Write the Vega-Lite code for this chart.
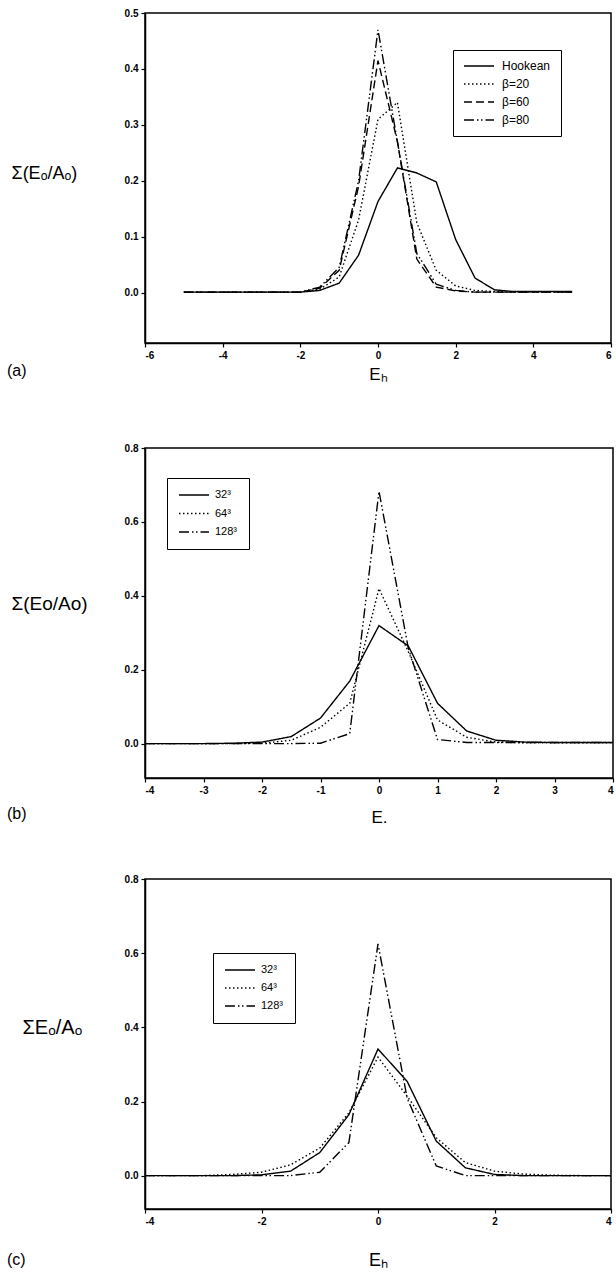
{
  "$schema": "https://vega.github.io/schema/vega-lite/v6.json",
  "padding": {"left": 6, "top": 7, "right": 0, "bottom": 0},
  "background": "white",
  "config": {
    "font": "Liberation Sans",
    "view": {"stroke": "black", "strokeWidth": 1.5},
    "axis": {"domainColor": "black", "domainWidth": 1.5, "tickColor": "black", "tickSize": 4, "tickWidth": 1.2, "labelFont": "Liberation Sans", "labelFontWeight": "bold", "labelFontSize": 10, "labelColor": "black", "grid": false, "titleFont": "Liberation Sans", "titleFontWeight": "normal", "titleColor": "black", "labelPadding": 3},
    "legend": {"strokeColor": "black", "fillColor": "white", "padding": 11, "symbolType": "stroke", "symbolSize": 900, "symbolStrokeWidth": 1.3, "symbolStrokeColor": "black", "labelFont": "Liberation Sans", "labelFontSize": 11, "labelColor": "black", "rowPadding": 6, "clipHeight": 12, "labelOffset": 7},
    "line": {"color": "black", "strokeWidth": 1.4}
  },
  "datasets": {
    "a": [
      {"s": "Hookean", "x": -5, "y": 0.001}, {"s": "Hookean", "x": -4.5, "y": 0.001}, {"s": "Hookean", "x": -4, "y": 0.001}, {"s": "Hookean", "x": -3.5, "y": 0.001}, {"s": "Hookean", "x": -3, "y": 0.001}, {"s": "Hookean", "x": -2.5, "y": 0.001}, {"s": "Hookean", "x": -2, "y": 0.001}, {"s": "Hookean", "x": -1.5, "y": 0.004}, {"s": "Hookean", "x": -1, "y": 0.017}, {"s": "Hookean", "x": -0.5, "y": 0.067}, {"s": "Hookean", "x": 0, "y": 0.163}, {"s": "Hookean", "x": 0.5, "y": 0.223}, {"s": "Hookean", "x": 1, "y": 0.214}, {"s": "Hookean", "x": 1.5, "y": 0.198}, {"s": "Hookean", "x": 2, "y": 0.095}, {"s": "Hookean", "x": 2.5, "y": 0.026}, {"s": "Hookean", "x": 3, "y": 0.005}, {"s": "Hookean", "x": 3.5, "y": 0.002}, {"s": "Hookean", "x": 4, "y": 0.002}, {"s": "Hookean", "x": 4.5, "y": 0.002}, {"s": "Hookean", "x": 5, "y": 0.002},
      {"s": "β=20", "x": -5, "y": 0.001}, {"s": "β=20", "x": -4.5, "y": 0.001}, {"s": "β=20", "x": -4, "y": 0.001}, {"s": "β=20", "x": -3.5, "y": 0.001}, {"s": "β=20", "x": -3, "y": 0.001}, {"s": "β=20", "x": -2.5, "y": 0.001}, {"s": "β=20", "x": -2, "y": 0.001}, {"s": "β=20", "x": -1.5, "y": 0.006}, {"s": "β=20", "x": -1, "y": 0.028}, {"s": "β=20", "x": -0.5, "y": 0.13}, {"s": "β=20", "x": 0, "y": 0.31}, {"s": "β=20", "x": 0.5, "y": 0.34}, {"s": "β=20", "x": 1, "y": 0.125}, {"s": "β=20", "x": 1.5, "y": 0.04}, {"s": "β=20", "x": 2, "y": 0.012}, {"s": "β=20", "x": 2.5, "y": 0.004}, {"s": "β=20", "x": 3, "y": 0.002}, {"s": "β=20", "x": 3.5, "y": 0.001}, {"s": "β=20", "x": 4, "y": 0.001}, {"s": "β=20", "x": 4.5, "y": 0.001}, {"s": "β=20", "x": 5, "y": 0.001},
      {"s": "β=60", "x": -5, "y": 0.001}, {"s": "β=60", "x": -4.5, "y": 0.001}, {"s": "β=60", "x": -4, "y": 0.001}, {"s": "β=60", "x": -3.5, "y": 0.001}, {"s": "β=60", "x": -3, "y": 0.001}, {"s": "β=60", "x": -2.5, "y": 0.001}, {"s": "β=60", "x": -2, "y": 0.001}, {"s": "β=60", "x": -1.5, "y": 0.008}, {"s": "β=60", "x": -1, "y": 0.04}, {"s": "β=60", "x": -0.5, "y": 0.19}, {"s": "β=60", "x": 0, "y": 0.415}, {"s": "β=60", "x": 0.5, "y": 0.27}, {"s": "β=60", "x": 1, "y": 0.06}, {"s": "β=60", "x": 1.5, "y": 0.01}, {"s": "β=60", "x": 2, "y": 0.003}, {"s": "β=60", "x": 2.5, "y": 0.001}, {"s": "β=60", "x": 3, "y": 0.001}, {"s": "β=60", "x": 3.5, "y": 0.001}, {"s": "β=60", "x": 4, "y": 0.001}, {"s": "β=60", "x": 4.5, "y": 0.001}, {"s": "β=60", "x": 5, "y": 0.001},
      {"s": "β=80", "x": -5, "y": 0.001}, {"s": "β=80", "x": -4.5, "y": 0.001}, {"s": "β=80", "x": -4, "y": 0.001}, {"s": "β=80", "x": -3.5, "y": 0.001}, {"s": "β=80", "x": -3, "y": 0.001}, {"s": "β=80", "x": -2.5, "y": 0.001}, {"s": "β=80", "x": -2, "y": 0.001}, {"s": "β=80", "x": -1.5, "y": 0.01}, {"s": "β=80", "x": -1, "y": 0.045}, {"s": "β=80", "x": -0.5, "y": 0.2}, {"s": "β=80", "x": 0, "y": 0.47}, {"s": "β=80", "x": 0.5, "y": 0.27}, {"s": "β=80", "x": 1, "y": 0.07}, {"s": "β=80", "x": 1.5, "y": 0.015}, {"s": "β=80", "x": 2, "y": 0.004}, {"s": "β=80", "x": 2.5, "y": 0.001}, {"s": "β=80", "x": 3, "y": 0.001}, {"s": "β=80", "x": 3.5, "y": 0.001}, {"s": "β=80", "x": 4, "y": 0.001}, {"s": "β=80", "x": 4.5, "y": 0.001}, {"s": "β=80", "x": 5, "y": 0.001}
    ],
    "b": [
      {"s": "32³", "x": -4, "y": 0.001}, {"s": "32³", "x": -3.5, "y": 0.001}, {"s": "32³", "x": -3, "y": 0.001}, {"s": "32³", "x": -2.5, "y": 0.002}, {"s": "32³", "x": -2, "y": 0.005}, {"s": "32³", "x": -1.5, "y": 0.02}, {"s": "32³", "x": -1, "y": 0.07}, {"s": "32³", "x": -0.5, "y": 0.17}, {"s": "32³", "x": 0, "y": 0.32}, {"s": "32³", "x": 0.5, "y": 0.265}, {"s": "32³", "x": 1, "y": 0.11}, {"s": "32³", "x": 1.5, "y": 0.035}, {"s": "32³", "x": 2, "y": 0.01}, {"s": "32³", "x": 2.5, "y": 0.005}, {"s": "32³", "x": 3, "y": 0.004}, {"s": "32³", "x": 3.5, "y": 0.004}, {"s": "32³", "x": 4, "y": 0.004},
      {"s": "64³", "x": -4, "y": 0.001}, {"s": "64³", "x": -3.5, "y": 0.001}, {"s": "64³", "x": -3, "y": 0.001}, {"s": "64³", "x": -2.5, "y": 0.001}, {"s": "64³", "x": -2, "y": 0.002}, {"s": "64³", "x": -1.5, "y": 0.01}, {"s": "64³", "x": -1, "y": 0.045}, {"s": "64³", "x": -0.5, "y": 0.11}, {"s": "64³", "x": 0, "y": 0.42}, {"s": "64³", "x": 0.5, "y": 0.25}, {"s": "64³", "x": 1, "y": 0.065}, {"s": "64³", "x": 1.5, "y": 0.018}, {"s": "64³", "x": 2, "y": 0.005}, {"s": "64³", "x": 2.5, "y": 0.003}, {"s": "64³", "x": 3, "y": 0.003}, {"s": "64³", "x": 3.5, "y": 0.003}, {"s": "64³", "x": 4, "y": 0.003},
      {"s": "128³", "x": -4, "y": 0.001}, {"s": "128³", "x": -3.5, "y": 0.001}, {"s": "128³", "x": -3, "y": 0.001}, {"s": "128³", "x": -2.5, "y": 0.001}, {"s": "128³", "x": -2, "y": 0.001}, {"s": "128³", "x": -1.5, "y": 0.001}, {"s": "128³", "x": -1, "y": 0.002}, {"s": "128³", "x": -0.5, "y": 0.028}, {"s": "128³", "x": 0, "y": 0.683}, {"s": "128³", "x": 0.5, "y": 0.26}, {"s": "128³", "x": 1, "y": 0.012}, {"s": "128³", "x": 1.5, "y": 0.004}, {"s": "128³", "x": 2, "y": 0.004}, {"s": "128³", "x": 2.5, "y": 0.004}, {"s": "128³", "x": 3, "y": 0.004}, {"s": "128³", "x": 3.5, "y": 0.004}, {"s": "128³", "x": 4, "y": 0.004}
    ],
    "c": [
      {"s": "32³", "x": -4, "y": 0.001}, {"s": "32³", "x": -3.5, "y": 0.001}, {"s": "32³", "x": -3, "y": 0.001}, {"s": "32³", "x": -2.5, "y": 0.001}, {"s": "32³", "x": -2, "y": 0.003}, {"s": "32³", "x": -1.5, "y": 0.013}, {"s": "32³", "x": -1, "y": 0.063}, {"s": "32³", "x": -0.5, "y": 0.165}, {"s": "32³", "x": 0, "y": 0.342}, {"s": "32³", "x": 0.5, "y": 0.255}, {"s": "32³", "x": 1, "y": 0.094}, {"s": "32³", "x": 1.5, "y": 0.022}, {"s": "32³", "x": 2, "y": 0.004}, {"s": "32³", "x": 2.5, "y": 0.001}, {"s": "32³", "x": 3, "y": 0.001}, {"s": "32³", "x": 3.5, "y": 0.001}, {"s": "32³", "x": 4, "y": 0.001},
      {"s": "64³", "x": -4, "y": 0.001}, {"s": "64³", "x": -3.5, "y": 0.001}, {"s": "64³", "x": -3, "y": 0.001}, {"s": "64³", "x": -2.5, "y": 0.004}, {"s": "64³", "x": -2, "y": 0.01}, {"s": "64³", "x": -1.5, "y": 0.03}, {"s": "64³", "x": -1, "y": 0.075}, {"s": "64³", "x": -0.5, "y": 0.17}, {"s": "64³", "x": 0, "y": 0.32}, {"s": "64³", "x": 0.5, "y": 0.215}, {"s": "64³", "x": 1, "y": 0.103}, {"s": "64³", "x": 1.5, "y": 0.036}, {"s": "64³", "x": 2, "y": 0.013}, {"s": "64³", "x": 2.5, "y": 0.005}, {"s": "64³", "x": 3, "y": 0.002}, {"s": "64³", "x": 3.5, "y": 0.001}, {"s": "64³", "x": 4, "y": 0.001},
      {"s": "128³", "x": -4, "y": 0.001}, {"s": "128³", "x": -3.5, "y": 0.001}, {"s": "128³", "x": -3, "y": 0.001}, {"s": "128³", "x": -2.5, "y": 0.001}, {"s": "128³", "x": -2, "y": 0.001}, {"s": "128³", "x": -1.5, "y": 0.001}, {"s": "128³", "x": -1, "y": 0.01}, {"s": "128³", "x": -0.5, "y": 0.09}, {"s": "128³", "x": 0, "y": 0.625}, {"s": "128³", "x": 0.5, "y": 0.21}, {"s": "128³", "x": 1, "y": 0.027}, {"s": "128³", "x": 1.5, "y": 0.001}, {"s": "128³", "x": 2, "y": 0.001}, {"s": "128³", "x": 2.5, "y": 0.001}, {"s": "128³", "x": 3, "y": 0.001}, {"s": "128³", "x": 3.5, "y": 0.001}, {"s": "128³", "x": 4, "y": 0.001}
    ]
  },
  "spacing": 47,
  "resolve": {"scale": {"strokeDash": "independent", "x": "independent", "y": "independent"}, "legend": {"strokeDash": "independent"}},
  "vconcat": [
    {
      "spacing": 59,
      "resolve": {"scale": {"strokeDash": "independent", "x": "independent", "y": "independent"}, "legend": {"strokeDash": "independent"}},
      "vconcat": [
        {
          "width": 466, "height": 330,
          "data": {"name": "a"},
          "title": {"text": "(a)", "orient": "bottom", "anchor": "start", "frame": "group", "dx": -138, "offset": -11, "baseline": "middle", "fontSize": 16, "fontWeight": "normal", "font": "Liberation Sans", "color": "black"},
          "mark": {"type": "line"},
          "encoding": {
            "x": {"field": "x", "type": "quantitative", "scale": {"domain": [-6, 6], "nice": false, "zero": false}, "axis": {"values": [-6, -4, -2, 0, 2, 4, 6], "labelExpr": "toString(datum.value)", "title": "Eₕ", "titleFontSize": 17, "titleY": 31, "titleBaseline": "middle"}},
            "y": {"field": "y", "type": "quantitative", "scale": {"domain": [-0.09, 0.5], "nice": false, "zero": false}, "axis": {"values": [0, 0.1, 0.2, 0.3, 0.4, 0.5], "format": ".1f", "title": "Σ(Eₒ/Aₒ)", "titleAngle": 0, "titleAlign": "left", "titleBaseline": "middle", "titleX": -134, "titleY": 160, "titleFontSize": 18}},
            "strokeDash": {"field": "s", "type": "nominal", "scale": {"domain": ["Hookean", "β=20", "β=60", "β=80"], "range": [[1, 0], [1.5, 2.5], [8, 4], [10, 3, 1.5, 2.5, 1.5, 3]]}, "legend": {"orient": "none", "legendX": 308, "legendY": 37, "title": null, "padding": 10, "labelFontSize": 12, "encode": {"labels": {"enter": {"font": {"signal": "datum.label === 'Hookean' ? 'Liberation Sans' : 'Liberation Serif'"}, "fontWeight": {"signal": "datum.label === 'Hookean' ? 'bold' : 'normal'"}}, "update": {"font": {"signal": "datum.label === 'Hookean' ? 'Liberation Sans' : 'Liberation Serif'"}, "fontWeight": {"signal": "datum.label === 'Hookean' ? 'bold' : 'normal'"}}}, "legend": {"update": {"strokeWidth": {"value": 1.5}}}}}}
          }
        },
        {
          "width": 468, "height": 330,
          "data": {"name": "b"},
          "title": {"text": "(b)", "orient": "bottom", "anchor": "start", "frame": "group", "dx": -138, "offset": -11, "baseline": "middle", "fontSize": 16, "fontWeight": "normal", "font": "Liberation Sans", "color": "black"},
          "mark": {"type": "line"},
          "encoding": {
            "x": {"field": "x", "type": "quantitative", "scale": {"domain": [-4, 4], "nice": false, "zero": false}, "axis": {"values": [-4, -3, -2, -1, 0, 1, 2, 3, 4], "labelExpr": "toString(datum.value)", "title": "E.", "titleFontSize": 17, "titleY": 39, "titleBaseline": "middle"}},
            "y": {"field": "y", "type": "quantitative", "scale": {"domain": [-0.092, 0.8], "nice": false, "zero": false}, "axis": {"values": [0, 0.2, 0.4, 0.6, 0.8], "format": ".1f", "title": "Σ(Eo/Ao)", "titleAngle": 0, "titleAlign": "left", "titleBaseline": "middle", "titleX": -134, "titleY": 155, "titleFontSize": 19}},
            "strokeDash": {"field": "s", "type": "nominal", "scale": {"domain": ["32³", "64³", "128³"], "range": [[1, 0], [1.5, 2.5], [10, 3, 1.5, 2.5, 1.5, 3]]}, "legend": {"orient": "none", "legendX": 22, "legendY": 30, "title": null, "padding": 11, "rowPadding": 6.5, "labelFontSize": 11, "labelOffset": 5, "encode": {"legend": {"update": {"strokeWidth": {"value": 1.5}}}}}}
          }
        }
      ]
    },
    {
      "width": 466, "height": 330,
      "data": {"name": "c"},
      "title": {"text": "(c)", "orient": "bottom", "anchor": "start", "frame": "group", "dx": -138, "offset": -9, "baseline": "middle", "fontSize": 16, "fontWeight": "normal", "font": "Liberation Sans", "color": "black"},
      "mark": {"type": "line"},
      "encoding": {
        "x": {"field": "x", "type": "quantitative", "scale": {"domain": [-4, 4], "nice": false, "zero": false}, "axis": {"values": [-4, -2, 0, 2, 4], "labelExpr": "toString(datum.value)", "title": "Eₕ", "titleFontSize": 18, "titleY": 51, "titleBaseline": "middle"}},
        "y": {"field": "y", "type": "quantitative", "scale": {"domain": [-0.089, 0.8], "nice": false, "zero": false}, "axis": {"values": [0, 0.2, 0.4, 0.6, 0.8], "format": ".1f", "title": "ΣEₒ/Aₒ", "titleAngle": 0, "titleAlign": "left", "titleBaseline": "middle", "titleX": -123, "titleY": 148, "titleFontSize": 20}},
        "strokeDash": {"field": "s", "type": "nominal", "scale": {"domain": ["32³", "64³", "128³"], "range": [[1, 0], [1.5, 2.5], [10, 3, 1.5, 2.5, 1.5, 3]]}, "legend": {"orient": "none", "legendX": 68, "legendY": 74, "title": null, "padding": 11, "rowPadding": 6, "labelFontSize": 11, "labelOffset": 5, "encode": {"legend": {"update": {"strokeWidth": {"value": 1.5}}}}}}
      }
    }
  ]
}
